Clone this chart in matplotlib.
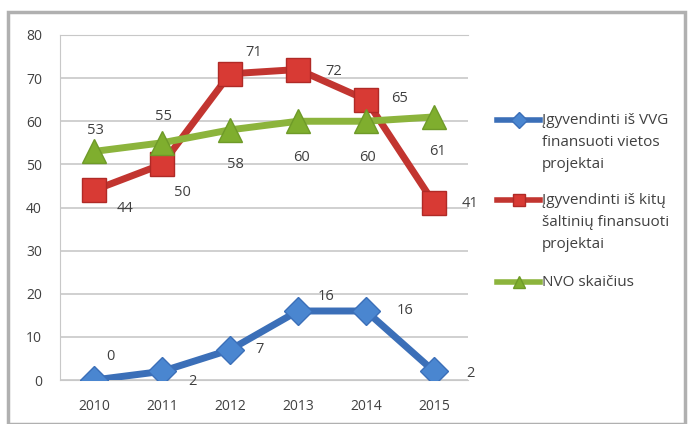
import matplotlib
matplotlib.use("Agg")
import matplotlib.pyplot as plt
from matplotlib.patches import Rectangle
from matplotlib.lines import Line2D

years = ["2010", "2011", "2012", "2013", "2014", "2015"]
vvg = [0, 2, 7, 16, 16, 2]
kitu = [44, 50, 71, 72, 65, 41]
nvo = [53, 55, 58, 60, 60, 61]
labels = ["Įgyvendinti iš VVG\nfinansuoti vietos\nprojektai",
          "Įgyvendinti iš kitų\nšaltinių finansuoti\nprojektai",
          "NVO skaičius"]

plt.rcParams['font.family'] = ['Open Sans', 'DejaVu Sans']
txt = "#404040"
W, H = 691, 424

fig = plt.figure(figsize=(6.91, 4.24), dpi=100)
fig.patches.append(Rectangle((8/W, 0), 677/W, 1 - 12/H, transform=fig.transFigure,
                             fill=False, edgecolor="#b0b0b0", linewidth=2.5))
ax = fig.add_axes([60/W, 1 - 380/H, 408/W, 345/H])
x = list(range(len(years)))

styles = [
    dict(color="#3b6fb8", marker="D", ms=14, mfc="#4a86d0", mec="#3b6fb8"),
    dict(color="#c23530", marker="s", ms=17, mfc="#d83a34", mec="#b02a26"),
    dict(color="#8cb43c", marker="^", ms=17, mfc="#7fae2e", mec="#6e9a28"),
]
series = [vvg, kitu, nvo]
for vals, st in zip(series, styles):
    ax.plot(x, vals, lw=5, zorder=3, **st)

fs = 10.5
# offsets in pixels (dx right, dy up)
offsets = [
    [(16, 23), (30, -10), (30, 0), (28, 14), (39, 0), (36, -2)],
    [(31, -18), (20, -28), (24, 21), (36, -2), (34, 1), (36, 0)],
    [(1, 21), (2, 26), (5, -35), (3, -36), (1, -36), (4, -35)],
]
for vals, offs in zip(series, offsets):
    for i in x:
        ax.annotate(str(vals[i]), (i, vals[i]), xytext=offs[i], textcoords="offset pixels",
                    ha="center", va="center", fontsize=fs, color=txt)

ax.set_xlim(-0.5, 5.5)
ax.set_ylim(0, 80)
ax.set_yticks(range(0, 81, 10))
ax.set_xticks(x)
ax.set_xticklabels(years)
ax.tick_params(axis="both", length=0, labelsize=10, colors=txt)
ax.tick_params(axis="x", pad=14)
ax.tick_params(axis="y", pad=13)
ax.yaxis.grid(True, color="#c8c8c8", lw=1.2)
ax.set_axisbelow(True)
ax.spines["right"].set_visible(False)
for s in ["left", "top", "bottom"]:
    ax.spines[s].set_color("#c8c8c8")

# manual legend: handle aligned with the first text line
first_y = [120, 200, 282]  # pixel rows of first line of each entry
line_gap = 22.5
for lab, st, y0 in zip(labels, styles, first_y):
    yf = 1 - y0 / H
    fig.add_artist(Line2D([497/W, 540/W], [yf, yf], transform=fig.transFigure,
                          color=st["color"], lw=4))
    fig.add_artist(Line2D([518.5/W], [yf], transform=fig.transFigure, color=st["color"],
                          marker=st["marker"], ms=st["ms"] * 0.55, mfc=st["mfc"], mec=st["mec"], lw=0))
    for k, line in enumerate(lab.split("\n")):
        fig.text(542/W, 1 - (y0 + k * line_gap) / H, line, ha="left", va="center",
                 fontsize=11, color=txt)

fig.savefig("out.png", dpi=100)
